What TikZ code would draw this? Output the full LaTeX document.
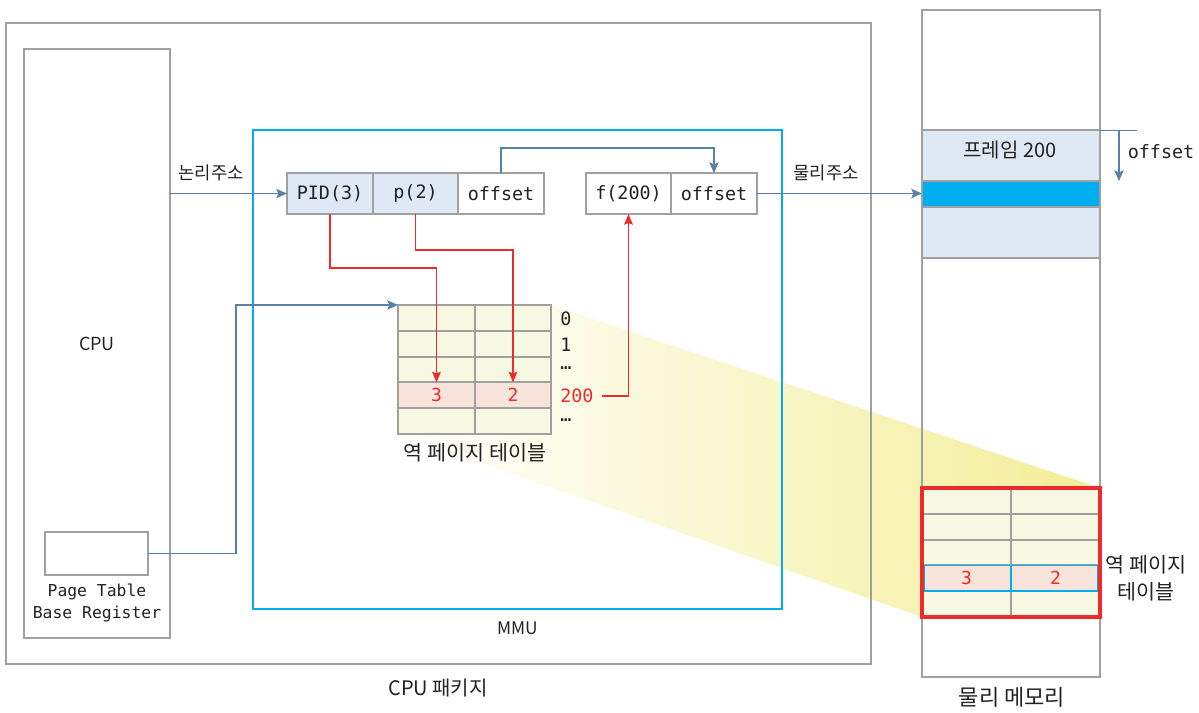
\documentclass[tikz,border=0pt]{standalone}
\usepackage{fontspec}
\setmainfont{Noto Sans CJK KR}
\setmonofont{DejaVu Sans Mono}
\usetikzlibrary{arrows.meta}
\definecolor{gr}{HTML}{A0A0A0}
\definecolor{bl}{HTML}{5B80A8}
\definecolor{cy}{HTML}{00AEEF}
\definecolor{rd}{HTML}{EE2A2E}
\definecolor{lblue}{HTML}{DFE8F5}
\definecolor{lyel}{HTML}{F7F9E3}
\definecolor{pinkc}{HTML}{F8E4DB}
\definecolor{txt}{HTML}{222222}
\definecolor{shy}{HTML}{F3EE98}
\begin{document}
\begin{tikzpicture}[x=0.75pt,y=-0.75pt,
  frame/.style={draw=gr, line width=1.5pt, inner sep=0pt, outer sep=0pt, anchor=north west, text=txt},
  cell/.style={draw=gr, line width=1.5pt, inner sep=0pt, outer sep=0pt, anchor=north west, minimum height=19.35pt, fill=lyel},
  pcell/.style={cell, fill=pinkc, text=rd, font=\ttfamily\fontsize{13.5}{16}\selectfont},
  mono/.style={font=\ttfamily\fontsize{13.8}{16}\selectfont, text=txt, inner sep=0pt},
  kr/.style={font=\fontsize{15.5}{19}\selectfont, text=txt, inner sep=0pt},
  krs/.style={font=\fontsize{13.3}{16}\selectfont, text=txt, inner sep=0pt},
  barrow/.style={draw=bl, line width=0.9pt, -{Stealth[length=8pt,width=7pt,inset=1.5pt]}},
  rarrow/.style={draw=rd, line width=0.9pt, -{Stealth[length=8pt,width=6.5pt,inset=1.2pt]}}
]
\path[use as bounding box] (0,0) rectangle (1199,713);

% yellow projection
\shade[left color=white, right color=shy] (551,305) -- (1100,488) -- (922,617) -- (398,434) -- cycle;

% CPU package
\node[frame, minimum width=648.75pt, minimum height=480.75pt] (pkg) at (6,23) {};
\node[kr, font=\fontsize{15}{18}\selectfont] (pkglabel) at (438,688) {CPU 패키지};
\node[frame, minimum width=109.5pt, minimum height=441.75pt, font=\fontsize{13.5}{16}\selectfont] (cpu) at (24,49) {CPU};
\node[frame, minimum width=77.25pt, minimum height=32.25pt] (ptbr) at (45,532) {};
\node[mono, align=center, font=\ttfamily\fontsize{12.3}{15.8}\selectfont] (ptbrlabel) at (97,603) {Page Table\\Base Register};

% MMU
\node[frame, draw=cy, minimum width=396.75pt, minimum height=359.25pt] (mmu) at (253,130) {};
\node[kr, font=\fontsize{13}{16}\selectfont] (mmulabel) at (518,628) {MMU};

% logical address
\node[frame, fill=lblue, minimum width=64.5pt, minimum height=30.75pt, mono] (pid) at (287,173) {PID(3)};
\node[frame, fill=lblue, minimum width=63.75pt, minimum height=30.75pt, mono] (p) at (373,173) {p(2)};
\node[frame, fill=white, minimum width=64.5pt, minimum height=30.75pt, mono] (off1) at (458,173) {offset};
% physical address
\node[frame, fill=white, minimum width=63.75pt, minimum height=30.75pt, mono] (f) at (586,173) {f(200)};
\node[frame, fill=white, minimum width=64.5pt, minimum height=30.75pt, mono] (off2) at (671,173) {offset};

\node[krs] (lalabel) at (211,173) {논리주소};
\node[krs] (palabel) at (826,173) {물리주소};

% inverted page table in MMU
\node[cell, minimum width=57.75pt] (t0a) at (398,305) {};
\node[cell, minimum width=57pt] (t0b) at (475,305) {};
\node[cell, minimum width=57.75pt] (t1a) at (398,330.8) {};
\node[cell, minimum width=57pt] (t1b) at (475,330.8) {};
\node[cell, minimum width=57.75pt] (t2a) at (398,356.6) {};
\node[cell, minimum width=57pt] (t2b) at (475,356.6) {};
\node[pcell, minimum width=57.75pt] (t3a) at (398,382.4) {3};
\node[pcell, minimum width=57pt] (t3b) at (475,382.4) {2};
\node[cell, minimum width=57.75pt] (t4a) at (398,408.2) {};
\node[cell, minimum width=57pt] (t4b) at (475,408.2) {};

\node[mono, anchor=west] (l0) at (560,319) {0};
\node[mono, anchor=west] (l1) at (560,345) {1};
\node[mono, anchor=west] (ld1) at (560,368) {…};
\node[mono, anchor=west, text=rd] (l200) at (560,396) {200};
\node[mono, anchor=west] (ld2) at (560,420) {…};
\node[kr] (iptlabel) at (475,453) {역 페이지 테이블};

% physical memory
\node[frame, minimum width=133.5pt, minimum height=500.25pt] (mem) at (922,10) {};
\node[kr, font=\fontsize{16.5}{19}\selectfont] (memlabel) at (1012,697) {물리 메모리};
\node[frame, fill=lblue, minimum width=133.5pt, minimum height=38.25pt] (fr200) at (922,130) {};
\node[kr, font=\fontsize{15}{18}\selectfont] (fr200label) at (1010,150) {프레임 200};
\node[frame, fill=cy, minimum width=133.5pt, minimum height=19.5pt] (cyrow) at (922,181) {};
\node[frame, fill=lblue, minimum width=133.5pt, minimum height=38.25pt] (fr201) at (922,207) {};

% inverted page table in memory
\node[cell, minimum width=66.75pt] (m0a) at (922,488) {};
\node[cell, minimum width=66.75pt] (m0b) at (1011,488) {};
\node[cell, minimum width=66.75pt] (m1a) at (922,513.8) {};
\node[cell, minimum width=66.75pt] (m1b) at (1011,513.8) {};
\node[cell, minimum width=66.75pt] (m2a) at (922,539.6) {};
\node[cell, minimum width=66.75pt] (m2b) at (1011,539.6) {};
\node[pcell, minimum width=66.75pt] (m3a) at (922,565.4) {3};
\node[pcell, minimum width=66.75pt] (m3b) at (1011,565.4) {2};
\node[cell, minimum width=66.75pt] (m4a) at (922,591.2) {};
\node[cell, minimum width=66.75pt] (m4b) at (1011,591.2) {};
\draw[cy, line width=1.3pt] ([xshift=1.6pt]m3a.north west) rectangle ([xshift=-1.6pt]m3b.south east);
\draw[cy, line width=1.3pt] (m3a.north east) -- (m3a.south east);
\draw[rd, line width=2.4pt] (m0a.north west) rectangle (m4b.south east);
\node[kr, align=center, font=\fontsize{15.5}{20}\selectfont] (miptlabel) at (1146,578) {역 페이지\\테이블};

% offset indicator on memory
\draw[bl, line width=0.7pt] (fr200.north east) -- ++(37,0) coordinate (offtick);
\draw[barrow] ([xshift=-13.5pt]offtick) -- ++(0,51);
\node[mono] (memoff) at (1161,152) {offset};

% connectors
\draw[barrow] (cpu.east |- pid.west) -- (pid.west);
\draw[barrow] (off1.north) -- ++(0,-25) -| (off2.north);
\draw[barrow] (off2.east) -- (off2.east -| cyrow.west);
\draw[barrow] (ptbr.east) -- ++(88,0) |- (t0a.north west);
\draw[rarrow] (pid.south) -- ++(0,54) -| (t3a.north);
\draw[rarrow] (p.south) -- ++(0,36) -| (t3b.north);
\draw[rarrow] ([xshift=6pt]l200.east) -| (f.south);
\end{tikzpicture}
\end{document}
